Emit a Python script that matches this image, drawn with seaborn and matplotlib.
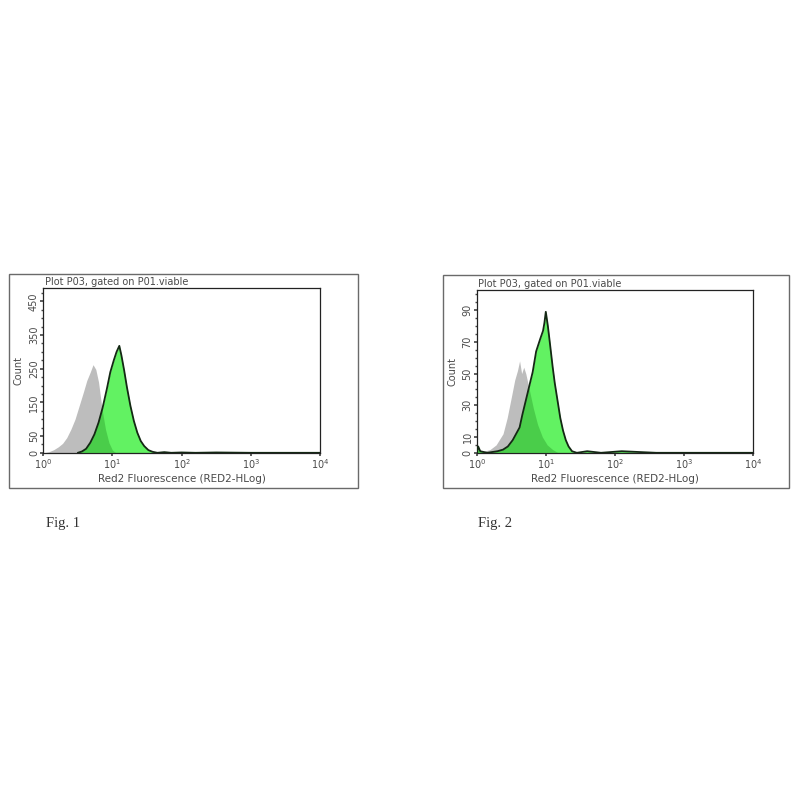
import numpy as np
import matplotlib
matplotlib.use("Agg")
import matplotlib.pyplot as plt
import seaborn as sns
from matplotlib.patches import Rectangle

# --- data (x as log10 of fluorescence, y = count) ---
fig1_gray_x = [0.00, 0.08, 0.15, 0.22, 0.28, 0.34, 0.40, 0.46, 0.52, 0.58, 0.63, 0.68,
               0.72, 0.76, 0.80, 0.85, 0.90, 0.95, 1.00, 1.05]
fig1_gray_y = [0, 3, 9, 18, 28, 45, 70, 100, 140, 180, 215, 240,
               262, 248, 210, 130, 70, 30, 8, 0]
fig1_green_x = [0.50, 0.56, 0.62, 0.68, 0.74, 0.80, 0.86, 0.92, 0.97, 1.02, 1.06, 1.10,
                1.13, 1.17, 1.21, 1.26, 1.31, 1.36, 1.41, 1.46, 1.52, 1.58, 1.65,
                1.75, 1.85, 2.0, 2.2, 2.5, 3.0, 4.0]
fig1_green_y = [0, 4, 12, 30, 55, 90, 135, 190, 240, 275, 300, 318,
                290, 245, 195, 140, 95, 60, 35, 20, 8, 3, 0,
                2, 0, 1, 0, 1, 0, 0]

fig2_gray_x = [0.00, 0.10, 0.19, 0.28, 0.38, 0.44, 0.50, 0.55, 0.59, 0.62, 0.65, 0.68,
               0.71, 0.74, 0.77, 0.82, 0.88, 0.95, 1.02, 1.10, 1.18]
fig2_gray_y = [1, 1, 2, 5, 12, 22, 35, 46, 52, 58, 50, 54,
               50, 44, 38, 28, 18, 10, 5, 2, 0]
fig2_green_x = [0.00, 0.02, 0.05, 0.15, 0.30, 0.38, 0.45, 0.52, 0.57, 0.62, 0.66, 0.71,
                0.76, 0.81, 0.86, 0.89, 0.92, 0.96, 0.98, 1.00, 1.03, 1.06, 1.10,
                1.13, 1.17, 1.21, 1.25, 1.29, 1.33, 1.38, 1.45, 1.6, 1.8, 2.1, 2.6, 4.0]
fig2_green_y = [0, 4, 1, 0, 1, 2, 4, 8, 12, 16, 24, 33,
                42, 51, 64, 68, 72, 77, 82, 89, 80, 69, 54,
                44, 33, 22, 14, 8, 4, 1, 0, 1, 0, 1, 0, 0]

panels = [
    dict(gx=fig1_gray_x, gy=fig1_gray_y, cx=fig1_green_x, cy=fig1_green_y,
         ymax=490, yticks=[0, 50, 150, 250, 350, 450], minor=list(range(0, 500, 25)),
         label="Fig. 1"),
    dict(gx=fig2_gray_x, gy=fig2_gray_y, cx=fig2_green_x, cy=fig2_green_y,
         ymax=103, yticks=[0, 10, 30, 50, 70, 90], minor=list(range(0, 104, 5)),
         label="Fig. 2"),
]

sns.set_theme(style="white")
plt.rcParams["font.family"] = ["DejaVu Sans"]
fig = plt.figure(figsize=(8, 8), dpi=100)

axes_pos = [[0.054, 0.434, 0.346, 0.206], [0.596, 0.434, 0.345, 0.204]]
box_pos = [[0.011, 0.39, 0.436, 0.2675], [0.554, 0.39, 0.4325, 0.266]]
label_pos = [0.057, 0.597]
txt = "#4a4a4a"

for p, apos, bpos, lx in zip(panels, axes_pos, box_pos, label_pos):
    fig.patches.append(Rectangle((bpos[0], bpos[1]), bpos[2], bpos[3],
                                 transform=fig.transFigure, fill=False,
                                 edgecolor="#6a6a6a", lw=1.0))
    ax = fig.add_axes(apos)
    gx = 10 ** np.array(p["gx"])
    cx = 10 ** np.array(p["cx"])
    ax.fill_between(gx, p["gy"], color="#bdbdbd", lw=0, zorder=1)
    green = ax.fill_between(cx, p["cy"], color="#62f262", lw=0, zorder=2)
    # darker green where the control overlaps the stained sample
    shade = ax.fill_between(gx, p["gy"], color="#1e8a1e", alpha=0.35, lw=0, zorder=3)
    shade.set_clip_path(green.get_paths()[0], ax.transData)
    sns.lineplot(x=cx, y=p["cy"], ax=ax, color="#142814", lw=1.3, zorder=4)
    ax.set_xscale("log")
    ax.set_xlim(1, 1e4)
    ax.set_ylim(0, p["ymax"])
    ax.set_xticks([1, 10, 100, 1000, 10000])
    ax.set_xticklabels([r"$10^0$", r"$10^1$", r"$10^2$", r"$10^3$", r"$10^4$"])
    ax.xaxis.set_minor_locator(matplotlib.ticker.NullLocator())
    ax.set_yticks(p["yticks"])
    ax.set_yticks(p["minor"], minor=True)
    ax.tick_params(axis="x", labelsize=7, colors=txt, length=2, pad=1.5)
    ax.tick_params(axis="y", labelsize=7, colors=txt, length=2, pad=1, labelrotation=90)
    ax.tick_params(axis="y", which="minor", length=1.5, color=txt, left=True)
    ax.tick_params(axis="both", which="both", direction="out", bottom=True, left=True)
    for lab in ax.get_yticklabels():
        lab.set_va("center")
    for s in ax.spines.values():
        s.set_color("#222222")
        s.set_linewidth(0.9)
    ax.set_xlabel("Red2 Fluorescence (RED2-HLog)", fontsize=7.5, color=txt, labelpad=2)
    ax.set_ylabel("Count", fontsize=7, color=txt, labelpad=4)
    ax.text(0.005, 1.005, "Plot P03, gated on P01.viable", transform=ax.transAxes,
            fontsize=7, color=txt, ha="left", va="bottom")
    fig.text(lx, 1 - 523 / 800, p["label"], fontsize=10.5, color="#333333",
             family=["Liberation Serif", "DejaVu Serif"], ha="left", va="center")

fig.savefig("out.png", dpi=100, facecolor="white")
